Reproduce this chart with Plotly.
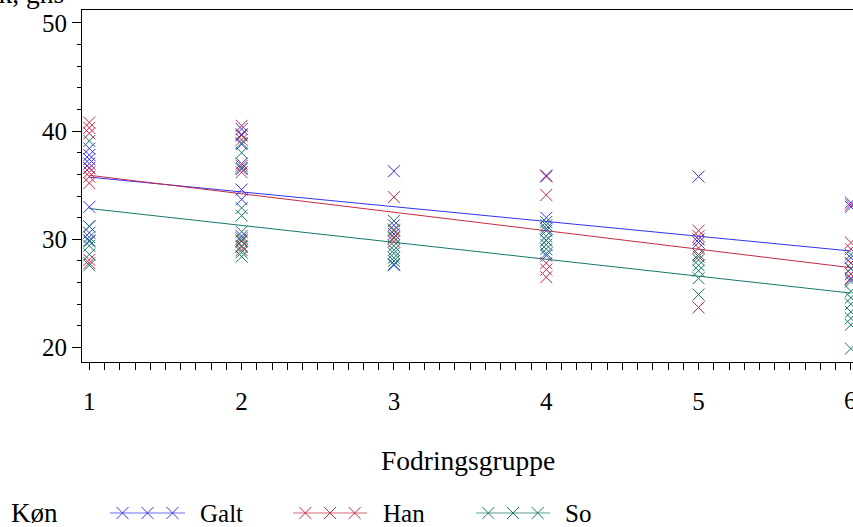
import plotly.graph_objects as go

W, H = 853, 527

groups = ["Galt", "Han", "So"]
colors = {"Galt": "#3333ee", "Han": "#c62a46", "So": "#17776a"}

# Fodringsgruppe (x) and observed values (y) per sex
galt_x = [1]*9 + [2]*8 + [3]*4 + [4]*5 + [5]*3 + [6]*7
galt_y = [38.4, 37.8, 37.4, 37.0, 36.6, 33.0, 31.2, 30.6, 29.9,
          40.2, 39.7, 38.8, 37.0, 36.5, 34.6, 33.7, 30.3,
          36.3, 31.3, 30.5, 27.6,
          35.9, 32.0, 31.0, 29.9, 28.5,
          35.8, 30.0, 29.7,
          33.4, 33.0, 28.3, 27.8, 27.3, 26.8, 26.3]

han_x = [1]*9 + [2]*8 + [3]*4 + [4]*5 + [5]*5 + [6]*6
han_y = [40.8, 40.3, 39.8, 36.6, 36.2, 35.8, 35.2, 28.1, 27.8,
         40.5, 39.6, 39.2, 36.8, 36.2, 29.9, 29.4, 29.0,
         33.9, 30.8, 30.2, 29.8,
         35.8, 34.1, 27.8, 27.2, 26.5,
         30.8, 30.3, 29.2, 28.4, 23.7,
         33.2, 29.7, 29.1, 27.8, 26.8, 26.4]

so_x = [1]*7 + [2]*11 + [3]*9 + [4]*8 + [5]*6 + [6]*10
so_y = [39.1, 31.2, 30.2, 29.8, 29.4, 28.6, 27.6,
        38.9, 38.0, 36.6, 32.9, 32.2, 30.7, 30.1, 29.8, 29.3, 28.8, 28.4,
        31.7, 30.9, 30.1, 29.4, 29.0, 28.7, 28.3, 28.0, 27.7,
        31.6, 31.3, 30.8, 30.3, 29.9, 29.5, 29.1, 28.7,
        28.6, 28.1, 27.6, 27.1, 26.4, 24.9,
        28.6, 27.3, 26.1, 25.2, 24.6, 24.0, 23.3, 22.7, 22.1, 19.9]

# fitted regression line per sex: value at Fodringsgruppe 1 and 6
fit_x = [1, 6]
galt_fit = [35.75, 28.92]
han_fit = [35.92, 27.38]
so_fit = [32.85, 25.03]

data = {"Galt": (galt_x, galt_y, galt_fit),
        "Han": (han_x, han_y, han_fit),
        "So": (so_x, so_y, so_fit)}

x_ticks = [1, 2, 3, 4, 5, 6]
y_ticks = [20, 30, 40, 50]

FONT = "Liberation Serif"
FS = 25
TFS = 27.5

fig = go.Figure()

for g in groups:
    xs, ys, fit = data[g]
    fig.add_trace(go.Scatter(x=fit_x, y=fit, mode="lines",
                             line=dict(color=colors[g], width=1),
                             showlegend=False, hoverinfo="skip"))
for g in groups:
    xs, ys, fit = data[g]
    fig.add_trace(go.Scatter(x=xs, y=ys, mode="markers", name=g,
                             marker=dict(symbol="x-thin-open", size=12,
                                         line=dict(color=colors[g], width=1),
                                         color=colors[g]),
                             showlegend=False))

# custom legend (line with three markers), drawn on an auxiliary pixel axis
leg_lines = {"Galt": (110, 185), "Han": (293, 367), "So": (476, 550)}
leg_text_x = {"Galt": 198, "Han": 381, "So": 563}
leg_y = 513
for g in groups:
    x0, x1 = leg_lines[g]
    fig.add_trace(go.Scatter(x=[x0, x1], y=[leg_y, leg_y], mode="lines",
                             line=dict(color=colors[g], width=1), opacity=0.7,
                             xaxis="x2", yaxis="y2", showlegend=False, hoverinfo="skip"))
    step = (x1 - x0) / 3.0
    mx = [x0 + step * (i + 0.5) for i in range(3)]
    fig.add_trace(go.Scatter(x=mx, y=[leg_y]*3, mode="markers",
                             marker=dict(symbol="x-thin-open", size=12, color=colors[g],
                                         line=dict(color=colors[g], width=1)),
                             xaxis="x2", yaxis="y2", showlegend=False, hoverinfo="skip"))

annotations = [
    dict(text="Køn", x=9/W, y=1 - leg_y/H, xref="paper", yref="paper",
         xanchor="left", yanchor="middle", showarrow=False, font=dict(size=27)),
    dict(text="Fodringsgruppe", x=468/W, y=1 - 460/H, xref="paper", yref="paper",
         xanchor="center", yanchor="middle", showarrow=False, font=dict(size=TFS)),
    dict(text="Spæk, gns", x=66/W, y=1 + 6/H, xref="paper", yref="paper",
         xanchor="right", yanchor="middle", showarrow=False, font=dict(size=TFS)),
    # last x tick label, partly cut by the right edge as in the original
    dict(text=str(x_ticks[-1]), x=x_ticks[-1], xref="x", y=1 - 400/H, yref="paper",
         xanchor="center", yanchor="middle", showarrow=False),
]
for g in groups:
    annotations.append(dict(text=g, x=leg_text_x[g]/W, y=1 - leg_y/H,
                            xref="paper", yref="paper", xanchor="left",
                            yanchor="middle", showarrow=False))

tickfont = dict(family=FONT, size=FS, color="black")
fig.update_layout(
    width=W, height=H,
    margin=dict(l=0, r=0, t=0, b=0),
    paper_bgcolor="white", plot_bgcolor="rgba(0,0,0,0)",
    font=dict(family=FONT, size=FS, color="black"),
    showlegend=False,
    xaxis=dict(domain=[82/W, 1.0], range=[0.952, 6.014],
               tickvals=x_ticks[:-1] + [x_ticks[-1]],
               ticktext=[str(v) for v in x_ticks[:-1]] + [""],
               tickfont=tickfont, ticklabelstandoff=10,
               ticks="outside", ticklen=7, tickwidth=1, tickcolor="black",
               minor=dict(dtick=0.1, tick0=0, ticks="outside", ticklen=7,
                          tickwidth=1, tickcolor="black"),
               showline=True, linecolor="black", linewidth=1, mirror=True,
               showgrid=False, zeroline=False, anchor="y"),
    yaxis=dict(domain=[(H-362)/H, (H-10)/H], range=[18.66, 51.2], tickvals=y_ticks,
               tickfont=tickfont,
               ticks="outside", ticklen=9, tickwidth=1, tickcolor="black",
               minor=dict(dtick=2, tick0=0, ticks="outside", ticklen=4,
                          tickwidth=1, tickcolor="black"),
               showline=True, linecolor="black", linewidth=1, mirror=False,
               showgrid=False, zeroline=False, anchor="x"),
    xaxis2=dict(domain=[0, 1], range=[0, W], visible=False, anchor="y2"),
    yaxis2=dict(domain=[0, 0.1], range=[H, H - 0.1*H], visible=False, anchor="x2"),
    annotations=annotations,
)

fig.write_html("out.html")
